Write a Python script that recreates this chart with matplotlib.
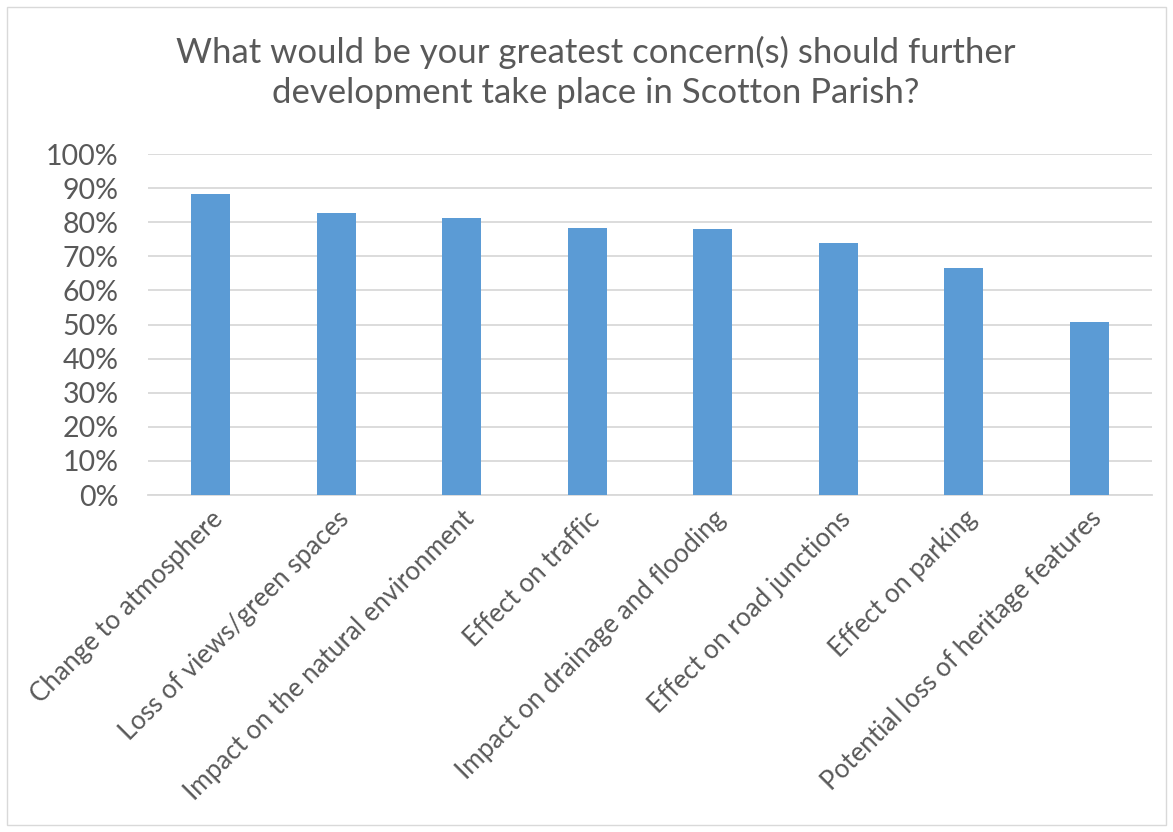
import matplotlib.pyplot as plt
from matplotlib.patches import Rectangle
from matplotlib.ticker import PercentFormatter

categories = ['Change to atmosphere', 'Loss of views/green spaces',
              'Impact on the natural environment', 'Effect on traffic',
              'Impact on drainage and flooding', 'Effect on road junctions',
              'Effect on parking', 'Potential loss of heritage features']
values = [88.4, 82.6, 81.1, 78.2, 78.1, 73.9, 66.7, 50.7]

plt.rcParams['font.family'] = ['Lato', 'DejaVu Sans']
grey = '#595959'

fig = plt.figure(figsize=(11.73, 8.32), dpi=100)
fig.patches.append(Rectangle((0.006, 0.008), 0.988, 0.984, transform=fig.transFigure,
                             fill=False, edgecolor='#d9d9d9', linewidth=1))

ax = fig.add_axes([148 / 1173, 1 - 495 / 832, (1152 - 148) / 1173, (495 - 154) / 832])
x = range(len(categories))
ax.bar(x, values, width=0.31, color='#5b9bd5', zorder=3)

ax.set_ylim(0, 100)
ax.set_xlim(-0.5, len(categories) - 0.5)
ax.set_yticks(range(0, 101, 10))
ax.yaxis.set_major_formatter(PercentFormatter(decimals=0))
ax.grid(axis='y', color='#d9d9d9', linewidth=1.3, zorder=0)
for s in ['top', 'right', 'left']:
    ax.spines[s].set_visible(False)
ax.spines['bottom'].set_color('#d9d9d9')
ax.spines['bottom'].set_linewidth(1.3)
ax.tick_params(axis='y', length=0, labelsize=20.5, colors=grey, pad=21)
ax.tick_params(axis='x', length=0, labelsize=18.7, colors=grey, pad=8)
ax.set_xticks(list(x))
ax.set_xticklabels(categories, rotation=45, ha='right', rotation_mode='anchor')

fig.text(0.508, 0.913, 'What would be your greatest concern(s) should further\ndevelopment take place in Scotton Parish?',
         ha='center', va='center', fontsize=25, color=grey, linespacing=1.3)

plt.savefig('out.png')
